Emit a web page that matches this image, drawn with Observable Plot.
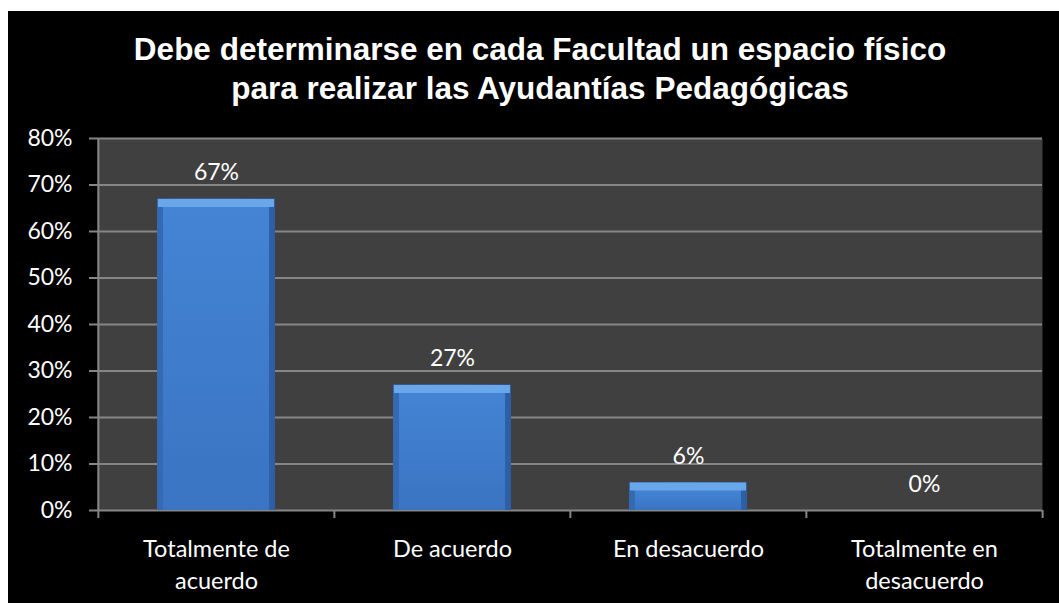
<!DOCTYPE html>
<html>
<head>
<meta charset="utf-8">
<script src="https://cdn.jsdelivr.net/npm/d3@7"></script>
<script src="https://cdn.jsdelivr.net/npm/@observablehq/plot@0.6"></script>
<style>
  html, body { margin: 0; padding: 0; background: #ffffff; }
  #frame { position: absolute; left: 8px; top: 11px; width: 1051px; height: 592px; background: #000000; overflow: hidden; }
  #title { position: absolute; left: 0; top: 0; width: 1051px; padding-left: 13px; box-sizing: border-box; text-align: center;
           font-family: "Liberation Sans", Arial, sans-serif; font-weight: bold; font-size: 31.5px; line-height: 39px; color: #ffffff; padding-top: 19px; }
  #chart { position: absolute; left: 0; top: 109px; }
  #chart svg g[aria-label^="y-axis"] line, #chart svg g[aria-label^="y-axis"] path { stroke: #868686; stroke-width: 2px; }
</style>
</head>
<body>
<div id="frame">
  <div id="title">Debe determinarse en cada Facultad un espacio físico<br>para realizar las Ayudantías Pedagógicas</div>
  <div id="chart"></div>
</div>
<script>
const categories = ["Totalmente de\nacuerdo", "De acuerdo", "En desacuerdo", "Totalmente en\ndesacuerdo"];
const values = [0.67, 0.27, 0.06, 0.00];
const yTicks = [0, 0.1, 0.2, 0.3, 0.4, 0.5, 0.6, 0.7, 0.8];

const data = categories.map((c, i) => ({category: c, value: values[i]}));

const W = 1051, H = 483, ML = 89, MR = 17, MT = 18, MB = 93;
const step = (W - ML - MR) / categories.length;
const font = "Lato, 'Open Sans', sans-serif";

const chart = Plot.plot({
  width: W,
  height: H,
  marginLeft: ML,
  marginRight: MR,
  marginTop: MT,
  marginBottom: MB,
  style: {background: "transparent", color: "#ffffff", fontFamily: font, fontSize: "23px"},
  x: {domain: categories, paddingInner: 0.5, paddingOuter: 0.25, axis: null},
  y: {domain: [0, 0.8], ticks: yTicks, tickFormat: d3.format(".0%"), tickSize: 8, tickPadding: 17, label: null},
  marks: [
    Plot.frame({fill: "#404040", stroke: null}),
    Plot.ruleY(yTicks, {stroke: "#868686", strokeWidth: 2}),
    Plot.ruleX(categories, {x: d => d, dx: -step / 2, y1: 0, y2: 0.8, stroke: "#868686", strokeWidth: 2, filter: (d, i) => i === 0}),
    Plot.ruleX(categories, {x: d => d, dx: -step / 2, y1: 0, y2: 0, insetBottom: -8, stroke: "#868686", strokeWidth: 2}),
    Plot.ruleX(categories.slice(-1), {x: d => d, dx: step / 2, y1: 0, y2: 0, insetBottom: -8, stroke: "#868686", strokeWidth: 2}),
    Plot.barY(data, {x: "category", y: "value", fill: "url(#barSide)", filter: d => d.value > 0}),
    Plot.barY(data, {x: "category", y: "value", fill: "url(#barFace)", insetLeft: 6, insetRight: 6, insetTop: 8, filter: d => d.value > 0}),
    Plot.tickY(data, {x: "category", y: "value", stroke: "#6aa6ea", strokeWidth: 8, dy: 4, insetLeft: 1, insetRight: 1, filter: d => d.value > 0}),
    Plot.text(data, {x: "category", y: "value", text: d => d3.format(".0%")(d.value), dy: -26, fill: "#ffffff", fontSize: 23}),
    Plot.text(data, {x: "category", y: 0, text: "category", dy: 23, lineAnchor: "top", lineHeight: 1.38, fill: "#ffffff", fontSize: 23.5})
  ]
});

const defs = d3.select(chart).insert("defs", ":first-child");
const side = defs.append("linearGradient").attr("id", "barSide").attr("x1", 0).attr("x2", 1).attr("y1", 0).attr("y2", 0);
side.append("stop").attr("offset", "0%").attr("stop-color", "#3469b2");
side.append("stop").attr("offset", "50%").attr("stop-color", "#3b77c6");
side.append("stop").attr("offset", "100%").attr("stop-color", "#2d5ea4");
const face = defs.append("linearGradient").attr("id", "barFace").attr("x1", 0).attr("x2", 0).attr("y1", 0).attr("y2", 1);
face.append("stop").attr("offset", "0%").attr("stop-color", "#4484d4");
face.append("stop").attr("offset", "100%").attr("stop-color", "#3a74c2");

document.getElementById("chart").appendChild(chart);
</script>
</body>
</html>
